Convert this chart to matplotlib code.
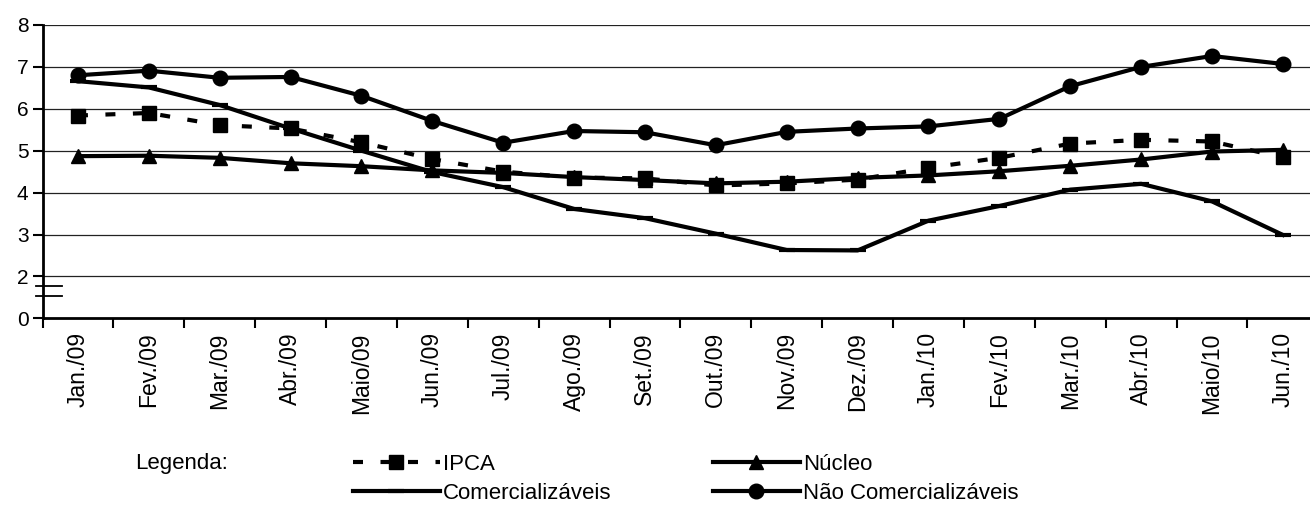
import matplotlib
matplotlib.use('Agg')
import matplotlib.pyplot as plt
import matplotlib.transforms as mtransforms
import numpy as np

plt.rcParams['font.family'] = ['Liberation Sans', 'DejaVu Sans']

months = ['Jan./09', 'Fev./09', 'Mar./09', 'Abr./09', 'Maio/09', 'Jun./09',
          'Jul./09', 'Ago./09', 'Set./09', 'Out./09', 'Nov./09', 'Dez./09',
          'Jan./10', 'Fev./10', 'Mar./10', 'Abr./10', 'Maio/10', 'Jun./10']

ipca = [5.84, 5.90, 5.61, 5.53, 5.20, 4.80, 4.50, 4.36, 4.34,
        4.17, 4.22, 4.31, 4.59, 4.83, 5.17, 5.26, 5.22, 4.84]
nucleo = [4.87, 4.88, 4.83, 4.70, 4.63, 4.53, 4.47, 4.37, 4.30,
          4.22, 4.26, 4.35, 4.41, 4.51, 4.64, 4.79, 4.98, 5.02]
comerc = [6.66, 6.51, 6.09, 5.53, 5.00, 4.49, 4.13, 3.61, 3.39,
          3.02, 2.63, 2.62, 3.33, 3.68, 4.07, 4.21, 3.79, 2.99]
nao_comerc = [6.80, 6.91, 6.74, 6.76, 6.31, 5.71, 5.19, 5.47, 5.44,
              5.13, 5.45, 5.53, 5.58, 5.76, 6.54, 7.00, 7.26, 7.07]

# axis is broken: the "0" label sits where 1 would be
ytick_pos = [1, 2, 3, 4, 5, 6, 7, 8]
ytick_lbl = ['0', '2', '3', '4', '5', '6', '7', '8']

W, H = 1310, 505
fig = plt.figure(figsize=(W / 100, H / 100), dpi=100)
ax = fig.add_axes([42.5 / W, 186.7 / H, 1275.8 / W, 293.3 / H])

x = np.arange(len(months))
lw = 3
h_ipca, = ax.plot(x, ipca, color='black', lw=lw, dashes=(2.4, 4.2), marker='s',
                  ms=10.5, label='IPCA', zorder=6)
h_nuc, = ax.plot(x, nucleo, color='black', lw=lw, marker='^', ms=10.5,
                 label='Núcleo', zorder=5)
h_com, = ax.plot(x, comerc, color='black', lw=lw, marker='_', ms=11, mew=3,
                 label='Comercializáveis', zorder=4)
h_nao, = ax.plot(x, nao_comerc, color='black', lw=lw, marker='o', ms=10.5,
                 label='Não Comercializáveis', zorder=4)

ax.set_xlim(-0.5, len(months) - 0.5)
ax.set_ylim(1, 8)
ax.set_yticks(ytick_pos)
ax.set_yticklabels(ytick_lbl, fontsize=15)
for yv in ytick_pos[1:]:
    ax.axhline(yv, color='#222222', lw=0.9, zorder=1)

ax.set_xticks(x)
ax.set_xticklabels(months, rotation=90, fontsize=16.5)
ax.set_xticks(np.arange(len(months) + 1) - 0.5, minor=True)
ax.tick_params(axis='x', which='major', length=0, pad=10)
ax.tick_params(axis='x', which='minor', length=7, width=1.5, direction='out')
ax.tick_params(axis='y', length=7, width=1.5, direction='out', pad=3)

for s in ['top', 'right']:
    ax.spines[s].set_visible(False)
ax.spines['left'].set_linewidth(2)
ax.spines['bottom'].set_linewidth(2)

# axis-break marks
trans = mtransforms.blended_transform_factory(ax.transAxes, ax.transData)
for yb in (1.76, 1.54):
    ax.plot([-0.005, 0.0155], [yb, yb], color='black', lw=1.3,
            transform=trans, clip_on=False)

fig.text(135 / W, 1 - 463 / H, 'Legenda:', fontsize=16, va='center')
leg_kw = dict(loc='center left', frameon=False, fontsize=16, ncol=1,
              handlelength=3.9, handletextpad=0.15, labelspacing=0.36,
              borderpad=0, borderaxespad=0, numpoints=1)
fig.legend([h_ipca, h_com], ['IPCA', 'Comercializáveis'],
           bbox_to_anchor=(353 / W, 26 / H), **leg_kw)
fig.legend([h_nuc, h_nao], ['Núcleo', 'Não Comercializáveis'],
           bbox_to_anchor=(713 / W, 26 / H), **leg_kw)

fig.savefig('out.png', dpi=100)
